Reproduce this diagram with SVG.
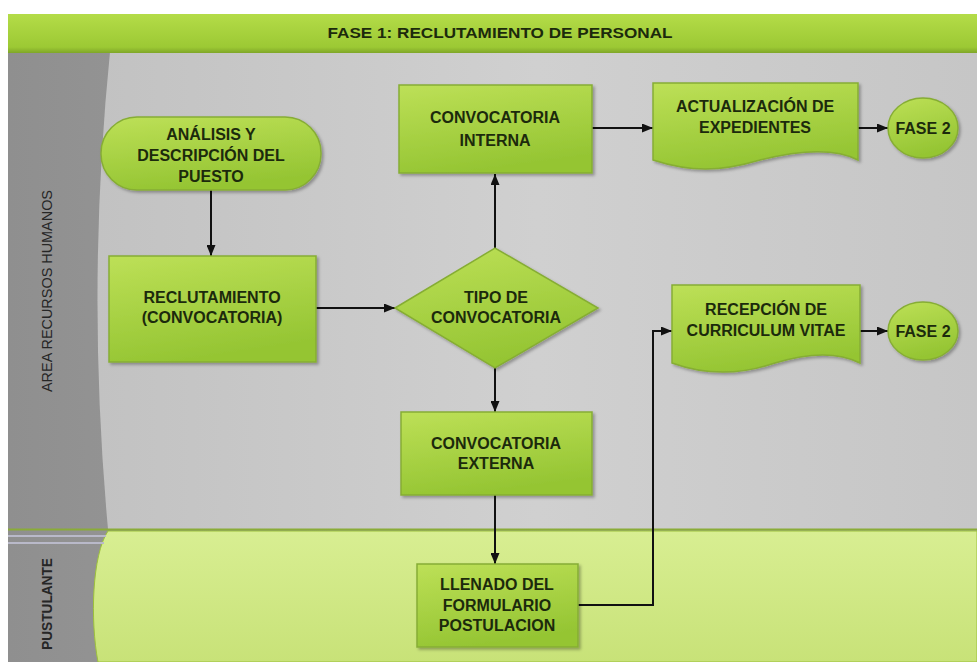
<svg xmlns="http://www.w3.org/2000/svg" width="977" height="662" viewBox="0 0 977 662">
<defs>
<style>
.t{font-family:"Liberation Sans",Arial,sans-serif;font-weight:bold;font-size:16px;fill:#1c2a0c;text-anchor:middle}
.node{fill:url(#ng);stroke:#86ad34;stroke-width:1.5;filter:url(#sh)}
.lane{font-family:"Liberation Sans",Arial,sans-serif;font-size:14px;fill:#262626;text-anchor:middle}
.c{fill:none;stroke:#111;stroke-width:2;marker-end:url(#ah)}
</style>
<linearGradient id="ng" x1="0" y1="0" x2="0.3" y2="1">
<stop offset="0" stop-color="#bde057"/>
<stop offset="1" stop-color="#95c533"/>
</linearGradient>
<linearGradient id="hg" x1="0" y1="0" x2="0" y2="1">
<stop offset="0" stop-color="#b4dc48"/>
<stop offset="0.85" stop-color="#9cc934"/>
<stop offset="1" stop-color="#7fa628"/>
</linearGradient>
<linearGradient id="lg" x1="0" y1="0" x2="1" y2="0">
<stop offset="0" stop-color="#8f8f8f"/>
<stop offset="1" stop-color="#b3b3b3"/>
</linearGradient>
<linearGradient id="mg" x1="0" y1="0" x2="1" y2="0">
<stop offset="0" stop-color="#c2c2c2"/>
<stop offset="0.5" stop-color="#d0d0d0"/>
<stop offset="1" stop-color="#c6c6c6"/>
</linearGradient>
<linearGradient id="pg" x1="0" y1="0" x2="0" y2="1">
<stop offset="0" stop-color="#d8ee92"/>
<stop offset="1" stop-color="#c8e278"/>
</linearGradient>
<filter id="sh" x="-10%" y="-10%" width="130%" height="130%">
<feDropShadow dx="2" dy="2" stdDeviation="1.5" flood-color="#000" flood-opacity="0.3"/>
</filter>
<marker id="ah" markerUnits="userSpaceOnUse" markerWidth="11" markerHeight="9" refX="11" refY="4.5" orient="auto">
<path d="M0,0 L11,4.5 L0,9 z" fill="#111"/>
</marker>
</defs>
<rect x="0" y="0" width="977" height="662" fill="#fff"/>
<g id="lanes">
<rect x="8" y="52" width="969" height="610" fill="url(#lg)"/>
<path d="M110,52 H977 V529 H108 Q86,290 110,52 Z" fill="url(#mg)"/>
<path d="M108,531 H977 V662 H98 C90,620 92,555 108,531 Z" fill="url(#pg)" stroke="#9cc03c" stroke-width="1"/>
<line x1="8" y1="529.5" x2="977" y2="529.5" stroke="#8aac38" stroke-width="2"/>
<line x1="8" y1="536" x2="106" y2="536" stroke="#b9b9c9" stroke-width="2"/>
<line x1="8" y1="543" x2="104" y2="543" stroke="#b9b9c9" stroke-width="2"/>
<text class="lane" transform="translate(52,291) rotate(-90)" textLength="202" lengthAdjust="spacingAndGlyphs">AREA RECURSOS HUMANOS</text>
<text class="lane" transform="translate(52,604) rotate(-90)" textLength="92" lengthAdjust="spacingAndGlyphs" style="font-weight:bold">PUSTULANTE</text>
</g>
<g id="header">
<rect x="8" y="14" width="969" height="39" fill="url(#hg)"/>
<text x="500" y="38" class="t" style="font-size:14px" textLength="345" lengthAdjust="spacingAndGlyphs">FASE 1: RECLUTAMIENTO DE PERSONAL</text>
</g>
<g id="connectors">
<path class="c" d="M211,190 V256"/>
<path class="c" d="M316,308 H395"/>
<path class="c" d="M495,248 V174"/>
<path class="c" d="M592,128 H653"/>
<path class="c" d="M858,128 H888"/>
<path class="c" d="M495,368 V412"/>
<path class="c" d="M495,495 V564"/>
<path class="c" d="M578,605 H653 V331 H672"/>
<path class="c" d="M860,331 H888"/>
</g>
<g id="n-analisis">
<rect class="node" x="101" y="117" width="220" height="73" rx="36" ry="36"/>
<text class="t" x="211" y="140">ANÁLISIS Y</text>
<text class="t" x="211" y="161">DESCRIPCIÓN DEL</text>
<text class="t" x="211" y="182">PUESTO</text>
</g>
<g id="n-reclutamiento">
<rect class="node" x="109" y="256" width="207" height="106"/>
<text class="t" x="212" y="303">RECLUTAMIENTO</text>
<text class="t" x="212" y="323">(CONVOCATORIA)</text>
</g>
<g id="n-tipo">
<polygon class="node" points="395,308 495,248 598,308 495,368"/>
<text class="t" x="496" y="303">TIPO DE</text>
<text class="t" x="496" y="323">CONVOCATORIA</text>
</g>
<g id="n-interna">
<rect class="node" x="399" y="85" width="193" height="88"/>
<text class="t" x="495" y="123">CONVOCATORIA</text>
<text class="t" x="495" y="146">INTERNA</text>
</g>
<g id="n-actualizacion">
<path class="node" d="M653,83 H858 V160 C835,148 800,150 760,160 C720,172 690,172 653,160 Z"/>
<text class="t" x="755" y="112">ACTUALIZACIÓN DE</text>
<text class="t" x="755" y="133">EXPEDIENTES</text>
</g>
<g id="n-fase2a">
<ellipse class="node" cx="923" cy="128" rx="35" ry="30"/>
<text class="t" x="923" y="134">FASE 2</text>
</g>
<g id="n-externa">
<rect class="node" x="401" y="412" width="191" height="83"/>
<text class="t" x="496" y="449">CONVOCATORIA</text>
<text class="t" x="496" y="469">EXTERNA</text>
</g>
<g id="n-recepcion">
<path class="node" d="M672,285 H860 V363 C838,352 808,353 775,363 C740,375 705,375 672,363 Z"/>
<text class="t" x="766" y="315">RECEPCIÓN DE</text>
<text class="t" x="766" y="336">CURRICULUM VITAE</text>
</g>
<g id="n-fase2b">
<ellipse class="node" cx="923" cy="331" rx="35" ry="29"/>
<text class="t" x="923" y="337">FASE 2</text>
</g>
<g id="n-llenado">
<rect class="node" x="417" y="564" width="161" height="83"/>
<text class="t" x="497" y="590">LLENADO DEL</text>
<text class="t" x="497" y="611">FORMULARIO</text>
<text class="t" x="497" y="631">POSTULACION</text>
</g>
</svg>
